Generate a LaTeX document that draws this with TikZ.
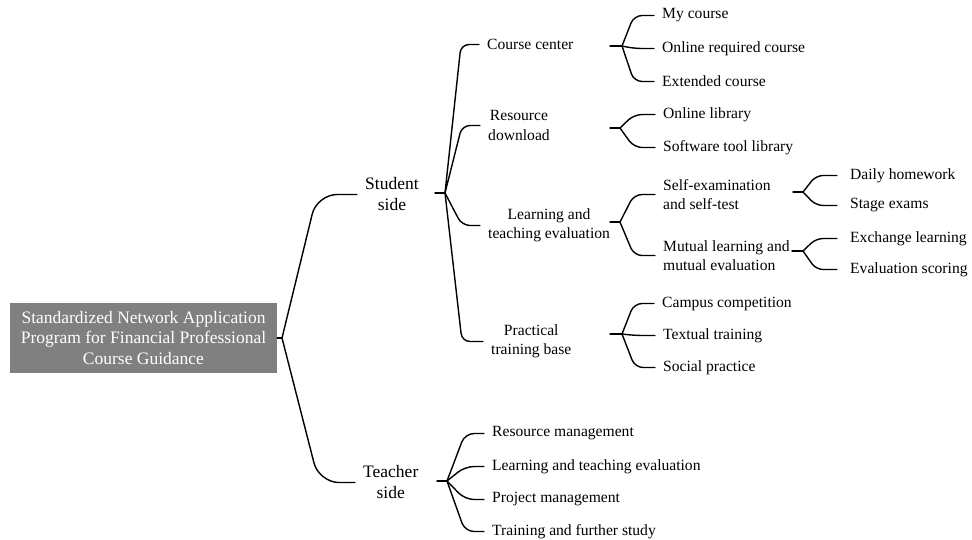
\documentclass[tikz,border=0pt]{standalone}
\usepackage{fontspec}
\setmainfont{Liberation Serif}

\tikzset{
  link/.style={line width=1.4pt, line cap=round, rounded corners=#1},
  link/.default=8pt,
  rootbox/.style={fill=black!50, text=white, align=center,
    font=\fontsize{17.5}{20.5}\selectfont,
    minimum width=267pt, minimum height=70pt, inner sep=0pt},
  topic/.style={anchor=west, align=center, inner xsep=8pt, inner ysep=1pt,
    font=\fontsize{17.5}{21}\selectfont},
  item/.style={anchor=west, align=left, inner xsep=8pt, inner ysep=1pt,
    yshift=-1.5pt, font=\fontsize{15.6}{19.5}\selectfont},
  subitem/.style={item, inner xsep=13pt}
}

\begin{document}
\begin{tikzpicture}[x=1pt, y=-1pt]
  \useasboundingbox (0,0) rectangle (972,539);

  % Root
  \node[rootbox] (root) at (143.5,338)
    {Standardized Network Application\\Program for Financial Professional\\Course Guidance};
  \coordinate (rf) at (282,338);

  % Two sides
  \node[topic] (ss) at (357,194.5) {Student\\side};
  \node[topic] (ts) at (355,482.5) {Teacher\\side};
  \coordinate (fs) at (445,193);
  \coordinate (ft) at (447,481);

  % Student side
  \node[item] (cc) at (479,43) {Course center};
  \node[item, align=center] (rd) at (480,124) {Resource\\download};
  \node[item, align=center] (lte) at (480,224) {Learning and\\teaching evaluation};
  \node[item, align=center] (ptb) at (483,340) {Practical\\training base};

  \coordinate (fcc) at (622,46);
  \coordinate (frd) at (620,128);
  \coordinate (fle) at (620,222);
  \coordinate (fpt) at (622,334);

  \node[item] (mc)  at (654,14)  {My course};
  \node[item] (orc) at (654,47)  {Online required course};
  \node[item] (ec)  at (654,80)  {Extended course};
  \node[item] (ol)  at (655,113) {Online library};
  \node[item] (stl) at (655,146) {Software tool library};
  \node[item] (sex) at (655,193) {Self-examination\\and self-test};
  \node[item] (mle) at (655,254) {Mutual learning and\\mutual evaluation};
  \node[item] (cpc) at (654,302) {Campus competition};
  \node[item] (tt)  at (655,334) {Textual training};
  \node[item] (sp)  at (655,366) {Social practice};

  \coordinate (fse) at (803,192);
  \coordinate (fml) at (803,251);

  \node[subitem] (dh)  at (837,174) {Daily homework};
  \node[subitem] (se)  at (837,204) {Stage exams};
  \node[subitem] (exl) at (837,237) {Exchange learning};
  \node[subitem] (evs) at (837,268) {Evaluation scoring};

  % Teacher side
  \node[item] (rm)  at (484,432) {Resource management};
  \node[item] (lt)  at (484,465) {Learning and teaching evaluation};
  \node[item] (pm)  at (484,498) {Project management};
  \node[item] (tfs) at (484,530) {Training and further study};

  % Root branches
  \draw[link] (root.east) -- (rf);
  \draw[link=20pt] (rf) -- ([xshift=-40pt]ss.west) -- (ss.west);
  \draw[link=20pt] (rf) -- ([xshift=-36pt]ts.west) -- (ts.west);

  % Student side branches
  \draw[link] ([xshift=-10pt]fs) -- (fs);
  \draw[link] (fs) -- ([xshift=-18pt]cc.west) -- (cc.west);
  \draw[link] (fs) -- ([xshift=-18pt]rd.west) -- (rd.west);
  \draw[link] (fs) -- ([xshift=-18pt]lte.west) -- (lte.west);
  \draw[link] (fs) -- ([xshift=-21pt]ptb.west) -- (ptb.west);

  % Course center
  \draw[link] ([xshift=-12pt]fcc) -- (fcc);
  \draw[link] (fcc) -- ([xshift=-20pt]mc.west) -- (mc.west);
  \draw[link] (fcc) -- ([xshift=-20pt]orc.west) -- (orc.west);
  \draw[link] (fcc) -- ([xshift=-20pt]ec.west) -- (ec.west);

  % Resource download
  \draw[link] ([xshift=-10pt]frd) -- (frd);
  \draw[link] (frd) -- ([xshift=-21pt]ol.west) -- (ol.west);
  \draw[link] (frd) -- ([xshift=-21pt]stl.west) -- (stl.west);

  % Learning and teaching evaluation
  \draw[link] ([xshift=-10pt]fle) -- (fle);
  \draw[link] (fle) -- ([xshift=-21pt]sex.west) -- (sex.west);
  \draw[link] (fle) -- ([xshift=-21pt]mle.west) -- (mle.west);

  \draw[link] ([xshift=-10pt]fse) -- (fse);
  \draw[link=7pt] (fse) -- ([xshift=-21pt]dh.west) -- (dh.west);
  \draw[link=7pt] (fse) -- ([xshift=-21pt]se.west) -- (se.west);

  \draw[link] ([xshift=-11pt]fml) -- (fml);
  \draw[link=7pt] (fml) -- ([xshift=-21pt]exl.west) -- (exl.west);
  \draw[link=7pt] (fml) -- ([xshift=-21pt]evs.west) -- (evs.west);

  % Practical training base
  \draw[link] ([xshift=-12pt]fpt) -- (fpt);
  \draw[link] (fpt) -- ([xshift=-20pt]cpc.west) -- (cpc.west);
  \draw[link] (fpt) -- ([xshift=-20pt]tt.west) -- (tt.west);
  \draw[link] (fpt) -- ([xshift=-20pt]sp.west) -- (sp.west);

  % Teacher side branches
  \draw[link] ([xshift=-10pt]ft) -- (ft);
  \draw[link=9pt] (ft) -- ([xshift=-19pt]rm.west) -- (rm.west);
  \draw[link=9pt] (ft) -- ([xshift=-19pt]lt.west) -- (lt.west);
  \draw[link=9pt] (ft) -- ([xshift=-19pt]pm.west) -- (pm.west);
  \draw[link=9pt] (ft) -- ([xshift=-19pt]tfs.west) -- (tfs.west);
\end{tikzpicture}
\end{document}
